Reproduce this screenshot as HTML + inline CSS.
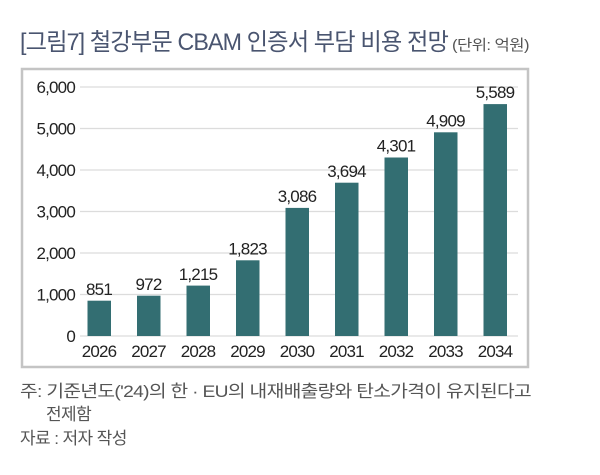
<!DOCTYPE html>
<html><head><meta charset="utf-8"><style>
body{margin:0;background:#fff;width:600px;height:470px;overflow:hidden;font-family:"Liberation Sans","Noto Sans CJK KR",sans-serif}
</style></head><body>
<svg width="600" height="470" xmlns="http://www.w3.org/2000/svg" font-family="Liberation Sans, Noto Sans CJK KR, sans-serif">
<text x="20" y="50" font-size="24" fill="#4a5570" letter-spacing="-0.9" textLength="428" lengthAdjust="spacingAndGlyphs">[그림7] 철강부문 CBAM 인증서 부담 비용 전망</text>
<text x="452" y="50" font-size="15" fill="#555" letter-spacing="-0.5" textLength="77" lengthAdjust="spacingAndGlyphs">(단위: 억원)</text>
<rect x="22" y="69" width="506" height="298" fill="none" stroke="#c4c4c4" stroke-width="2.5"/>
<g stroke="#dcdcdc" stroke-width="1.2">
<line x1="80" x2="518" y1="87" y2="87"/><line x1="80" x2="518" y1="128.5" y2="128.5"/><line x1="80" x2="518" y1="170" y2="170"/><line x1="80" x2="518" y1="211.5" y2="211.5"/><line x1="80" x2="518" y1="253" y2="253"/><line x1="80" x2="518" y1="294.5" y2="294.5"/><line x1="80" x2="518" y1="336" y2="336"/>
</g>
<g font-size="17" fill="#222" text-anchor="end" letter-spacing="-0.8">
<text x="75" y="93">6,000</text><text x="75" y="134.5">5,000</text><text x="75" y="176">4,000</text><text x="75" y="217.5">3,000</text><text x="75" y="259">2,000</text><text x="75" y="300.5">1,000</text><text x="75" y="342">0</text>
</g>
<g fill="#336e72">
<rect x="87.5" y="300.7" width="23.5" height="35.3"/>
<rect x="137" y="295.7" width="23.5" height="40.3"/>
<rect x="186.5" y="285.6" width="23.5" height="50.4"/>
<rect x="236" y="260.3" width="23.5" height="75.7"/>
<rect x="285.5" y="207.9" width="23.5" height="128.1"/>
<rect x="335" y="182.7" width="23.5" height="153.3"/>
<rect x="384.5" y="157.5" width="23.5" height="178.5"/>
<rect x="434" y="132.3" width="23.5" height="203.7"/>
<rect x="483.5" y="104.1" width="23.5" height="231.9"/>
</g>
<g font-size="17" fill="#222" text-anchor="middle" letter-spacing="-0.8">
<text x="99" y="295">851</text><text x="148.5" y="290">972</text><text x="198" y="280">1,215</text><text x="247.5" y="254.5">1,823</text><text x="297" y="202">3,086</text><text x="346.5" y="177">3,694</text><text x="396" y="151.5">4,301</text><text x="445.5" y="126.5">4,909</text><text x="495" y="98">5,589</text>
</g>
<g font-size="17" fill="#222" text-anchor="middle" letter-spacing="-0.8">
<text x="99" y="357">2026</text><text x="148.5" y="357">2027</text><text x="198" y="357">2028</text><text x="247.5" y="357">2029</text><text x="297" y="357">2030</text><text x="346.5" y="357">2031</text><text x="396" y="357">2032</text><text x="445.5" y="357">2033</text><text x="495" y="357">2034</text>
</g>
<g font-size="17" fill="#555" letter-spacing="-0.6">
<text x="20" y="397" textLength="511" lengthAdjust="spacingAndGlyphs">주: 기준년도('24)의 한 · EU의 내재배출량와 탄소가격이 유지된다고</text>
<text x="46" y="420">전제함</text>
<text x="20" y="444">자료 : 저자 작성</text>
</g>
</svg>
</body></html>
